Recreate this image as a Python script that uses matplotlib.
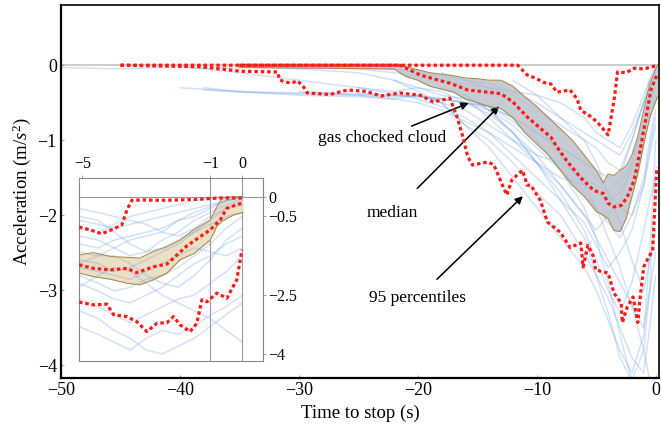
import numpy as np
import matplotlib
matplotlib.use('Agg')
import matplotlib.pyplot as plt

plt.rcParams['font.family'] = ['Liberation Serif', 'DejaVu Serif']
plt.rcParams['mathtext.fontset'] = 'custom'
plt.rcParams['mathtext.rm'] = 'Liberation Serif'
plt.rcParams['mathtext.it'] = 'Liberation Serif:italic'

nan = np.nan

# ---- main panel: individual traces (time to stop, acceleration)
t_main = [-50, -45, -40, -38, -35, -30, -25, -22, -20, -18, -16, -14, -12, -10, -8, -6, -5, -4, -3, -2, -1, -0.5, 0]
tr_1 = [-0.03, -0.05, -0.02, -0.04, -0.03, -0.02, -0.03, -0.05, -0.1, -0.15, -0.2, -0.25, -0.35, -0.5, -0.7, -0.9, -1.0, -1.1, -1.2, -0.9, -0.5, -0.2, 0]
tr_2 = [nan, nan, nan, -0.33, -0.35, -0.37, -0.38, -0.4, -0.42, -0.45, -0.5, -0.6, -0.8, -1.1, -1.4, -1.7, -1.9, -2.1, -2.3, -2.0, -1.5, -1.0, -0.6]
tr_3 = [nan, nan, -0.02, -0.05, -0.1, -0.2, -0.3, -0.35, -0.3, -0.4, -0.45, -0.7, -1.0, -1.3, -1.6, -2.0, -2.3, -2.6, -2.9, -3.2, -3.5, -3.0, -1.5]
tr_4 = [nan, nan, nan, nan, -0.02, -0.05, -0.1, -0.2, -0.35, -0.5, -0.8, -1.1, -1.5, -1.9, -2.3, -2.7, -3.0, -3.4, -3.8, -4.1, -3.6, -2.5, -1.0]
tr_5 = [nan, nan, nan, nan, 0, -0.02, -0.05, -0.1, -0.15, -0.2, -0.25, -0.3, -0.35, -0.4, -0.5, -0.7, -0.9, -1.0, -1.1, -0.8, -0.4, -0.2, -0.05]
tr_6 = [nan, nan, nan, nan, nan, nan, -0.3, -0.38, -0.45, -0.55, -0.7, -0.9, -1.2, -1.5, -1.8, -2.1, -2.4, -2.7, -2.5, -2.2, -1.6, -1.2, -0.8]
tr_7 = [nan, nan, nan, nan, nan, nan, nan, -0.2, -0.3, -0.35, -0.5, -0.65, -0.9, -1.2, -1.6, -2.0, -2.2, -2.0, -1.8, -1.3, -0.7, -0.4, -0.3]
tr_8 = [nan, nan, nan, nan, nan, nan, nan, nan, -0.4, -0.5, -0.8, -1.0, -1.3, -1.7, -2.0, -2.5, -2.8, -3.1, -3.5, -3.9, -4.1, -3.5, -2.8]
tr_9 = [nan, nan, nan, nan, nan, nan, nan, nan, nan, -0.1, -0.2, -0.3, -0.4, -0.6, -0.8, -1.0, -1.1, -1.3, -1.4, -1.0, -0.5, -0.3, -0.2]
tr_10 = [nan, nan, nan, nan, nan, nan, nan, nan, nan, nan, -0.4, -0.6, -0.9, -1.3, -1.7, -2.2, -2.6, -3.0, -3.3, -2.9, -2.2, -1.8, -1.5]
tr_11 = [nan, nan, nan, -0.3, -0.35, -0.4, -0.42, -0.45, -0.5, -0.6, -0.75, -0.9, -1.1, -1.3, -1.5, -1.6, -1.7, -1.8, -1.7, -1.4, -0.9, -0.6, -0.4]
tr_12 = [nan, nan, nan, nan, nan, nan, nan, nan, nan, nan, nan, -0.3, -0.5, -0.8, -1.2, -1.6, -1.9, -2.3, -2.7, -3.2, -3.8, -4.2, -4.2]
tr_13 = [nan, nan, nan, nan, nan, -0.35, -0.4, -0.45, -0.4, -0.5, -0.6, -0.8, -1.0, -1.2, -1.3, -1.5, -1.6, -1.7, -1.5, -1.0, -0.5, -0.3, -0.1]
tr_14 = [nan, nan, nan, nan, nan, nan, nan, nan, nan, nan, nan, nan, -0.2, -0.4, -0.7, -1.0, -1.3, -1.7, -2.1, -2.6, -3.0, -2.6, -2.2]
tr_15 = [nan, nan, nan, nan, nan, nan, nan, nan, nan, -0.3, -0.4, -0.6, -0.9, -1.3, -1.8, -2.3, -2.8, -3.3, -3.9, -4.2, -3.8, -3.0, -2.5]
tr_16 = [nan, nan, nan, nan, nan, nan, -0.38, -0.4, -0.42, -0.45, -0.5, -0.55, -0.7, -0.9, -1.1, -1.3, -1.4, -1.5, -1.6, -1.3, -0.8, -0.5, -0.3]
tr_17 = [nan, nan, nan, nan, nan, nan, nan, nan, nan, nan, -0.45, -0.55, -0.75, -1.0, -1.4, -1.9, -2.3, -2.9, -3.6, -4.2, -4.2, -4.2, -4.2]
tr_18 = [nan, nan, -0.3, -0.32, -0.36, -0.38, -0.4, -0.42, -0.4, -0.45, -0.5, -0.55, -0.7, -0.9, -1.1, -1.3, -1.5, -1.7, -1.9, -2.0, -1.6, -1.1, -0.7]
main_traces = [tr_1, tr_2, tr_3, tr_4, tr_5, tr_6, tr_7, tr_8, tr_9, tr_10, tr_11, tr_12, tr_13, tr_14,
               tr_15, tr_16, tr_17, tr_18]

# interquartile band
band_t = [-35, -22, -21, -20, -19, -18, -17, -16, -15, -14, -13, -12, -11, -10, -9, -8, -7, -6, -5, -4.4, -4, -3.5, -3, -2.5, -2, -1.5, -1, -0.5, 0.15]
band_hi = [0, 0, -0.02, -0.06, -0.1, -0.12, -0.14, -0.17, -0.18, -0.2, -0.2, -0.28, -0.42, -0.55, -0.7, -0.85, -1.0, -1.2, -1.4, -1.57, -1.45, -1.47, -1.4, -1.35, -1.2, -0.95, -0.6, -0.25, 0]
band_lo = [-0.03, -0.05, -0.15, -0.2, -0.28, -0.32, -0.36, -0.45, -0.5, -0.55, -0.58, -0.7, -0.9, -1.05, -1.2, -1.4, -1.6, -1.75, -1.95, -2.0, -2.05, -2.2, -2.22, -2.05, -1.75, -1.45, -1.05, -0.7, -0.42]

med_t = [-35, -21.5, -19.8, -18.7, -17.3, -15.8, -14.1, -13.0, -12.0, -10.8, -9.7, -8.8, -8.3, -7.4, -6.3, -5.2, -4.4, -4.0, -3.5, -2.9, -2.4, -1.8, -1.3, -0.8, -0.4, 0.15]
med_a = [0, 0, -0.13, -0.18, -0.24, -0.33, -0.36, -0.38, -0.49, -0.69, -0.84, -0.96, -1.09, -1.29, -1.5, -1.67, -1.71, -1.84, -1.89, -1.87, -1.76, -1.53, -1.13, -0.69, -0.33, -0.11]

p_hi_t = [-45, -11.6, -10.8, -10, -9.4, -8.8, -8.3, -7.2, -6.6, -6.3, -5.5, -4.9, -4.0, -3.5, -3.2, -2.5, -1.8, -1.0, -0.3, 0.2]
p_hi_a = [0, 0, -0.13, -0.18, -0.23, -0.25, -0.36, -0.33, -0.45, -0.6, -0.68, -0.76, -0.93, -0.47, -0.09, -0.1, -0.04, -0.05, -0.02, 0]

p_lo_t = [-45, -38.3, -36.6, -34.9, -31.8, -31.6, -30.7, -30.1, -29.6, -29.3, -27.4, -25.9, -24.3, -23.1, -21.5, -19.8, -18.7,
          -17.3, -16.7, -16.2, -15.8, -15.4, -14.1, -13.6, -12.8, -12.5, -12.1, -11.2, -10.8, -10.5, -9.7, -9.1, -8.0, -7.2,
          -6.3, -6.1, -5.7, -5.2, -5.05, -4.0, -3.5, -2.9, -2.8, -2.4, -1.9, -1.5, -1.3, -1.0, -0.6, -0.25, -0.15, 0.1]
p_lo_a = [0, -0.02, -0.05, -0.08, -0.09, -0.2, -0.24, -0.21, -0.29, -0.37, -0.39, -0.33, -0.35, -0.41, -0.37, -0.4, -0.49,
          -0.44, -0.69, -0.96, -1.22, -1.33, -1.29, -1.33, -1.63, -1.73, -1.53, -1.4, -1.6, -1.6, -1.8, -2.09, -2.23, -2.43,
          -2.37, -2.69, -2.4, -2.56, -2.73, -2.77, -3.04, -3.17, -3.43, -3.23, -3.09, -3.43, -3.09, -2.69, -2.56, -2.47, -2.16, -1.36]

# ---- inset panel (last 5 s)
t_in = [-5.1, -4.5, -4, -3.5, -3, -2.5, -2, -1.5, -1, -0.5, 0]
in_tr = [
    [-0.8, -0.9, -0.7, -0.5, -0.4, -0.3, -0.2, -0.1, -0.05, 0, 0],
    [-1.2, -1.3, -1.1, -1.0, -0.9, -0.8, -0.6, -0.5, -0.3, -0.1, 0],
    [-1.6, -1.7, -1.9, -1.8, -1.6, -1.4, -1.2, -0.9, -0.6, -0.3, -0.1],
    [-2.0, -2.2, -2.4, -2.3, -2.1, -2.0, -1.8, -1.5, -1.2, -0.8, -0.5],
    [-2.6, -2.8, -3.0, -3.2, -3.0, -2.8, -2.6, -2.5, -2.2, -1.9, -1.5],
    [-3.3, -3.5, -3.7, -3.9, -3.6, -3.4, -3.5, -3.3, -3.0, -2.8, -2.5],
    [-0.5, -0.6, -0.9, -1.2, -1.4, -1.3, -1.1, -0.9, -0.7, -0.5, -0.4],
    [-1.4, -1.5, -1.5, -1.7, -2.0, -2.2, -2.3, -2.0, -1.6, -1.1, -0.8],
    [-2.3, -2.0, -1.8, -1.9, -2.2, -2.5, -2.7, -2.9, -3.1, -3.4, -3.7],
    [-1.0, -1.1, -1.3, -1.5, -1.4, -1.1, -0.9, -0.6, -0.4, -0.2, -0.05],
    [-1.8, -1.9, -2.0, -2.1, -1.9, -1.7, -1.5, -1.3, -1.4, -1.5, -1.3],
    [-2.9, -3.1, -3.4, -3.6, -3.9, -4.0, -3.8, -3.6, -3.3, -3.0, -2.7],
    [-0.3, -0.4, -0.5, -0.6, -0.7, -0.9, -1.0, -0.8, -0.5, -0.3, -0.2],
    [-1.7, -1.5, -1.3, -1.1, -1.0, -0.9, -0.6, -0.4, -0.25, -0.1, 0],
    [-0.6, -0.7, -0.8, -0.7, -0.6, -0.5, -0.4, -0.3, -0.2, -0.1, 0],
    [-2.2, -2.4, -2.6, -2.7, -2.5, -2.3, -2.0, -1.7, -1.5, -1.2, -1.0],
]

in_band_t = [-5.1, -4.65, -4.1, -3.6, -3.2, -2.77, -2.35, -1.94, -1.52, -1.0, -0.79, -0.63, -0.27, 0.02]
in_band_hi = [-1.48, -1.42, -1.52, -1.54, -1.56, -1.39, -1.27, -1.1, -0.84, -0.59, -0.25, -0.03, 0, 0]
in_band_lo = [-1.94, -2.03, -2.1, -2.2, -2.24, -2.11, -1.94, -1.6, -1.45, -1.1, -0.75, -0.62, -0.46, -0.4]

in_med_t = [-5.1, -4.65, -4.1, -3.6, -3.3, -2.77, -2.35, -2.04, -1.73, -1.31, -1.0, -0.69, -0.48, -0.17, 0.02]
in_med_a = [-1.73, -1.82, -1.86, -1.82, -1.93, -1.78, -1.71, -1.48, -1.25, -1.01, -0.84, -0.59, -0.29, -0.2, -0.16]

in_hi_t = [-5.1, -4.75, -4.4, -4.02, -3.76, -3.6, -3.45, -3.08, -2.56, -1.94, -1.31, -0.69, 0.02]
in_hi_a = [-0.77, -0.84, -0.94, -0.82, -0.71, -0.33, -0.09, -0.08, -0.09, -0.08, -0.06, -0.03, -0.03]

in_lo_t = [-5.1, -4.65, -4.23, -4.02, -3.6, -3.29, -2.98, -2.67, -2.35, -2.15, -1.94, -1.63, -1.42, -1.26, -1.1, -0.79, -0.48, -0.17, -0.01]
in_lo_a = [-2.68, -2.75, -2.73, -3.0, -3.05, -3.18, -3.43, -3.22, -3.2, -3.05, -3.26, -3.43, -3.22, -2.62, -2.67, -2.45, -2.58, -2.11, -1.35]

trace_col = '#6d9fe3'
red_style = dict(color='#ff1a1a', lw=2.3, linestyle=(0, (1.1, 0.9)), zorder=5)
band_edge = '#a98d52'

fig = plt.figure(figsize=(6.61, 4.34), dpi=100)
ax = fig.add_axes([0.0923, 0.129, 0.905, 0.859])

ax.axhline(0, color='#c8c8c8', lw=1.3, zorder=1)
for tr in main_traces:
    ax.plot(t_main, tr, color=trace_col, lw=1.1, alpha=0.3, zorder=2)
ax.fill_between(band_t, band_lo, band_hi, color='#b5bcc6', alpha=0.75, lw=0, zorder=3)
ax.plot(band_t, band_hi, color=band_edge, lw=0.8, zorder=4)
ax.plot(band_t, band_lo, color=band_edge, lw=0.8, zorder=4)
ax.plot(med_t, med_a, **red_style)
ax.plot(p_hi_t, p_hi_a, **red_style)
ax.plot(p_lo_t, p_lo_a, **red_style)

ax.set_xlim(-50, 0.3)
ax.set_ylim(-4.17, 0.8)
ax.set_xticks([-50, -40, -30, -20, -10, 0])
ax.set_xticklabels(['\u221250', '\u221240', '\u221230', '\u221220', '\u221210', '0'])
ax.set_yticks([0, -1, -2, -3, -4])
ax.set_yticklabels(['0', '\u22121', '\u22122', '\u22123', '\u22124'])
ax.tick_params(direction='in', length=2.5, width=0.6, color='#888888', labelsize=13, pad=3)
ax.tick_params(top=False, right=False)
for side in ['left', 'bottom']:
    ax.spines[side].set_linewidth(1.6)
for side in ['top', 'right']:
    ax.spines[side].set_linewidth(1.2)
ax.set_xlabel('Time to stop (s)', fontsize=13.5, labelpad=4)
ax.set_ylabel('Acceleration (m/$s^2$)', fontsize=13.5, labelpad=3)

arrow = dict(arrowstyle='-|>', color='black', lw=1.1, mutation_scale=11)
ax.annotate('gas chocked cloud', xy=(-15.5, -0.49), xytext=(-17.6, -0.97),
            ha='right', va='center', fontsize=12.5, arrowprops=arrow)
ax.annotate('median', xy=(-13.0, -0.52), xytext=(-22.1, -1.97),
            ha='center', va='center', fontsize=12.5, arrowprops=dict(arrow, shrinkA=14))
ax.annotate('95 percentiles', xy=(-11.0, -1.72), xytext=(-20.0, -3.1),
            ha='center', va='center', fontsize=12.5, arrowprops=dict(arrow, shrinkA=8))

# inset
ins = fig.add_axes([0.1195, 0.168, 0.2785, 0.422])
ins.axhline(0, color='#999999', lw=0.8, zorder=1)
ins.axvline(-1, color='#999999', lw=0.8, zorder=1)
ins.axvline(0, color='#999999', lw=0.8, zorder=1)
ins.fill_between(in_band_t, in_band_lo, in_band_hi, color='#e9ddc0', alpha=0.9, lw=0, zorder=2)
ins.plot(in_band_t, in_band_hi, color=band_edge, lw=0.8, zorder=4)
ins.plot(in_band_t, in_band_lo, color=band_edge, lw=0.8, zorder=4)
for tr in in_tr:
    ins.plot(t_in, tr, color=trace_col, lw=1.1, alpha=0.3, zorder=3)
ins.plot(in_med_t, in_med_a, **red_style)
ins.plot(in_hi_t, in_hi_a, **red_style)
ins.plot(in_lo_t, in_lo_a, **red_style)
ins.set_xlim(-5.1, 0.65)
ins.set_ylim(-4.18, 0.48)
ins.set_xticks([-5, -1, 0])
ins.set_xticklabels(['\u22125', '\u22121', '0'])
ins.set_yticks([0, -0.5, -2.5, -4])
ins.set_yticklabels(['0', '\u22120.5', '\u22122.5', '\u22124'])
ins.xaxis.tick_top()
ins.yaxis.tick_right()
ins.tick_params(direction='out', length=2, width=0.6, color='#888888', labelsize=11.5, pad=2)
for sp in ins.spines.values():
    sp.set_color('#888888')
    sp.set_linewidth(0.8)

fig.savefig('out.png', dpi=100)
